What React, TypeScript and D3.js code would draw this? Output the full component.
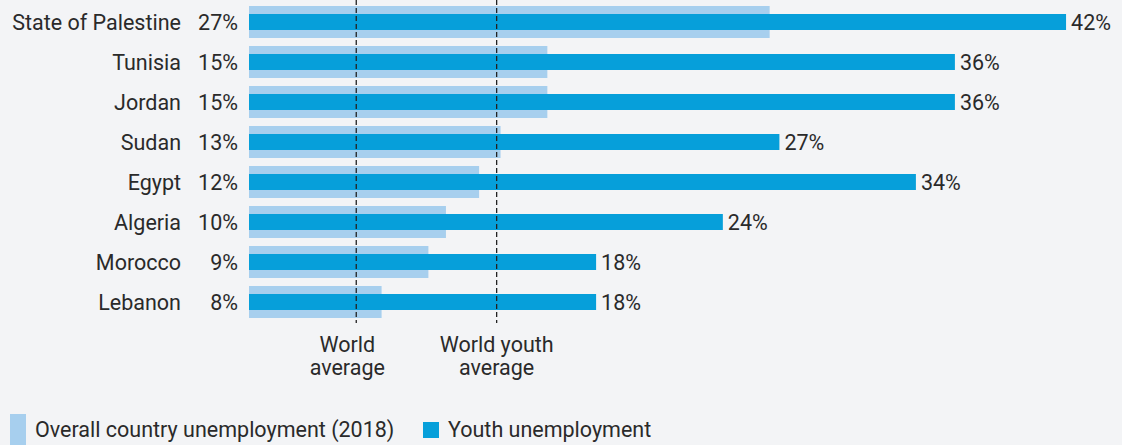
import { useEffect, useRef } from "react";
import * as d3 from "d3";

const countries = ["State of Palestine", "Tunisia", "Jordan", "Sudan", "Egypt", "Algeria", "Morocco", "Lebanon"];
const overallValues = [26.7, 15.3, 15.3, 12.9, 11.8, 10.1, 9.2, 6.8];
const youthValues = [41.9, 36.2, 36.2, 27.2, 34.2, 24.3, 17.8, 17.8];
const overallLabels = ["27%", "15%", "15%", "13%", "12%", "10%", "9%", "8%"];
const youthLabels = ["42%", "36%", "36%", "27%", "34%", "24%", "18%", "18%"];
const refLines = [5.5, 12.7];
const refLabels = [["World", "average"], ["World youth", "average"]];
const legendLabels = ["Overall country unemployment (2018)", "Youth unemployment"];

const W = 1122;
const H = 445;
const LIGHT = "#a7cfee";
const DARK = "#069fda";
const TEXT = "#2a2a2a";
const FONT = "Roboto, 'Noto Sans', sans-serif";
const FS = 21.5;

function Chart() {
  const ref = useRef<SVGSVGElement>(null);

  useEffect(() => {
    const svg = d3.select(ref.current);
    svg.selectAll("*").remove();

    const x = d3.scaleLinear().domain([0, 42]).range([249, 1068]);
    const y = d3.scaleBand().domain(countries).range([2, 322]).padding(0);
    const bw = y.bandwidth();

    svg.append("rect").attr("width", W).attr("height", H).attr("fill", "#f3f4f6");

    const rows = svg
      .selectAll("g.row")
      .data(countries)
      .join("g")
      .attr("class", "row")
      .attr("transform", (d) => `translate(0,${(y(d) ?? 0) + bw / 2})`);

    rows
      .append("rect")
      .attr("x", x(0))
      .attr("y", -bw * 0.4)
      .attr("width", (_, i) => x(overallValues[i]) - x(0))
      .attr("height", bw * 0.8)
      .attr("fill", LIGHT);

    rows
      .append("rect")
      .attr("x", x(0))
      .attr("y", -bw * 0.2)
      .attr("width", (_, i) => x(youthValues[i]) - x(0))
      .attr("height", bw * 0.4)
      .attr("fill", DARK);

    const txt = (sel: d3.Selection<SVGGElement, string, any, any>) =>
      sel
        .append("text")
        .attr("y", 7.5)
        .attr("font-family", FONT)
        .attr("font-size", FS)
        .attr("fill", TEXT);

    txt(rows).attr("x", 181).attr("text-anchor", "end").text((d) => d);
    txt(rows).attr("x", 238).attr("text-anchor", "end").text((_, i) => overallLabels[i]);
    txt(rows)
      .attr("x", (_, i) => x(youthValues[i]) + 5)
      .text((_, i) => youthLabels[i]);

    // reference lines
    refLines.forEach((v, i) => {
      svg
        .append("line")
        .attr("x1", x(v))
        .attr("x2", x(v))
        .attr("y1", 0)
        .attr("y2", 323)
        .attr("stroke", "#222")
        .attr("stroke-width", 1.3)
        .attr("stroke-dasharray", "5,3");
      const t = svg
        .append("text")
        .attr("text-anchor", "middle")
        .attr("font-family", FONT)
        .attr("font-size", FS)
        .attr("fill", TEXT);
      refLabels[i].forEach((line, j) => {
        t.append("tspan").attr("x", x(v) - (i === 0 ? 9 : 0)).attr("y", 352 + j * 23).text(line);
      });
    });

    // legend
    const lg = svg.append("g").attr("font-family", FONT).attr("font-size", FS).attr("fill", TEXT);
    lg.append("rect").attr("x", 10).attr("y", 414).attr("width", 16).attr("height", 32).attr("fill", LIGHT);
    lg.append("text").attr("x", 35).attr("y", 437).text(legendLabels[0]);
    lg.append("rect").attr("x", 423).attr("y", 422).attr("width", 16).attr("height", 16).attr("fill", DARK);
    lg.append("text").attr("x", 448).attr("y", 437).text(legendLabels[1]);
  }, []);

  return <svg ref={ref} width={W} height={H} style={{ display: "block" }} />;
}

export default function App() {
  useEffect(() => {
    document.body.style.margin = "0";
  }, []);
  return <Chart />;
}
